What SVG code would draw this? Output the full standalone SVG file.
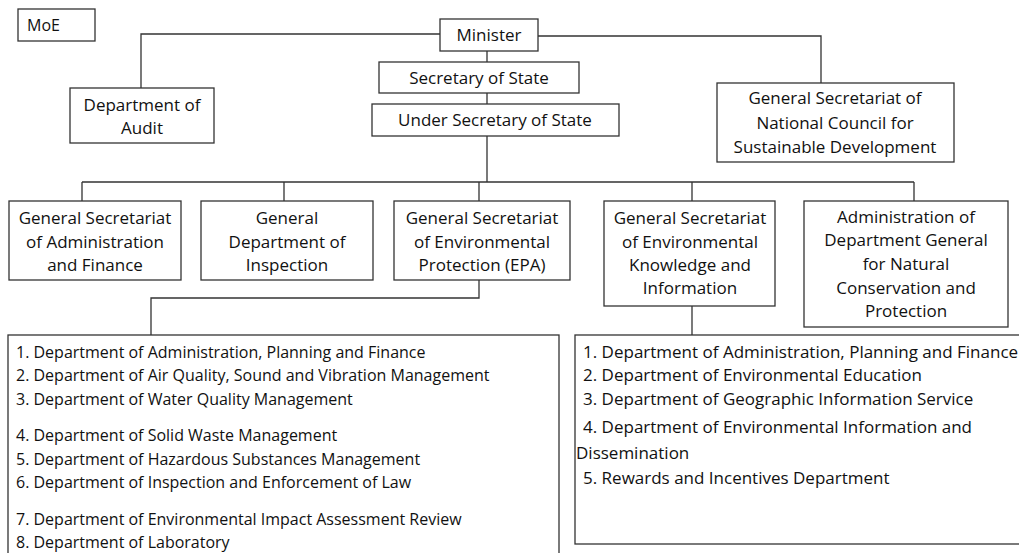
<svg xmlns="http://www.w3.org/2000/svg" width="1019" height="553" viewBox="0 0 1019 553">
<style>
rect{fill:#fff;stroke:#333;stroke-width:1.3}
.c path{fill:none;stroke:#333;stroke-width:1.3}
text{font-family:"Open Sans","Liberation Sans",sans-serif;font-size:17px;fill:#111}
.m{text-anchor:middle}
.l{font-size:16px}
</style>
<rect x="0" y="0" width="1019" height="553" style="stroke:none"/>
<g class="c" id="connectors">
<path d="M440,34H141V88"/>
<path d="M538,36H821V83"/>
<path d="M487,51V62M487,93V104M487,136V182"/>
<path d="M82,182H914M82,182V201M284,182V201M479,182V201M692,182V201M914,182V201"/>
<path d="M479,280V298H151V335"/>
<path d="M692,306V335"/>
</g>
<g id="moe"><rect x="18" y="9" width="77" height="32"/><text x="27" y="31" style="font-size:16px">MoE</text></g>
<g id="minister"><rect x="440" y="19" width="98" height="32"/><text class="m" x="489" y="41">Minister</text></g>
<g id="sec-state"><rect x="379" y="62" width="200" height="31"/><text class="m" x="479" y="84">Secretary of State</text></g>
<g id="under-sec"><rect x="372" y="104" width="247" height="32"/><text class="m" x="495" y="126">Under Secretary of State</text></g>
<g id="audit"><rect x="70" y="88" width="144" height="55"/><text class="m" x="142" y="111">Department of</text><text class="m" x="142" y="134">Audit</text></g>
<g id="ncsd"><rect x="717" y="83" width="237" height="79"/><text class="m" x="835" y="104">General Secretariat of</text><text class="m" x="835" y="129">National Council for</text><text class="m" x="835" y="153">Sustainable Development</text></g>
<g id="gsaf"><rect x="9" y="201" width="172" height="79"/><text class="m" x="95" y="224">General Secretariat</text><text class="m" x="95" y="248">of Administration</text><text class="m" x="95" y="271">and Finance</text></g>
<g id="gdi"><rect x="201" y="201" width="172" height="79"/><text class="m" x="287" y="224">General</text><text class="m" x="287" y="248">Department of</text><text class="m" x="287" y="271">Inspection</text></g>
<g id="epa"><rect x="394" y="201" width="176" height="79"/><text class="m" x="482" y="224">General Secretariat</text><text class="m" x="482" y="248">of Environmental</text><text class="m" x="482" y="271">Protection (EPA)</text></g>
<g id="gseki"><rect x="604" y="201" width="171" height="105"/><text class="m" x="690" y="224">General Secretariat</text><text class="m" x="690" y="248">of Environmental</text><text class="m" x="690" y="271">Knowledge and</text><text class="m" x="690" y="294">Information</text></g>
<g id="adgncp"><rect x="804" y="201" width="204" height="126"/><text class="m" x="906" y="223">Administration of</text><text class="m" x="906" y="246">Department General</text><text class="m" x="906" y="270">for Natural</text><text class="m" x="906" y="294">Conservation and</text><text class="m" x="906" y="317">Protection</text></g>
<g id="epa-list" class="l"><rect x="8" y="335" width="551" height="230"/>
<text class="l" x="16" y="358">1. Department of Administration, Planning and Finance</text>
<text class="l" x="16" y="381">2. Department of Air Quality, Sound and Vibration Management</text>
<text class="l" x="16" y="405">3. Department of Water Quality Management</text>
<text class="l" x="16" y="441">4. Department of Solid Waste Management</text>
<text class="l" x="16" y="465">5. Department of Hazardous Substances Management</text>
<text class="l" x="16" y="488">6. Department of Inspection and Enforcement of Law</text>
<text class="l" x="16" y="525">7. Department of Environmental Impact Assessment Review</text>
<text class="l" x="16" y="548">8. Department of Laboratory</text>
</g>
<g id="eki-list"><rect x="575" y="335" width="460" height="209"/>
<text x="583" y="358">1. Department of Administration, Planning and Finance</text>
<text x="583" y="381">2. Department of Environmental Education</text>
<text x="583" y="405">3. Department of Geographic Information Service</text>
<text x="583" y="433">4. Department of Environmental Information and</text>
<text x="576" y="459">Dissemination</text>
<text x="583" y="484">5. Rewards and Incentives Department</text>
</g>
</svg>
